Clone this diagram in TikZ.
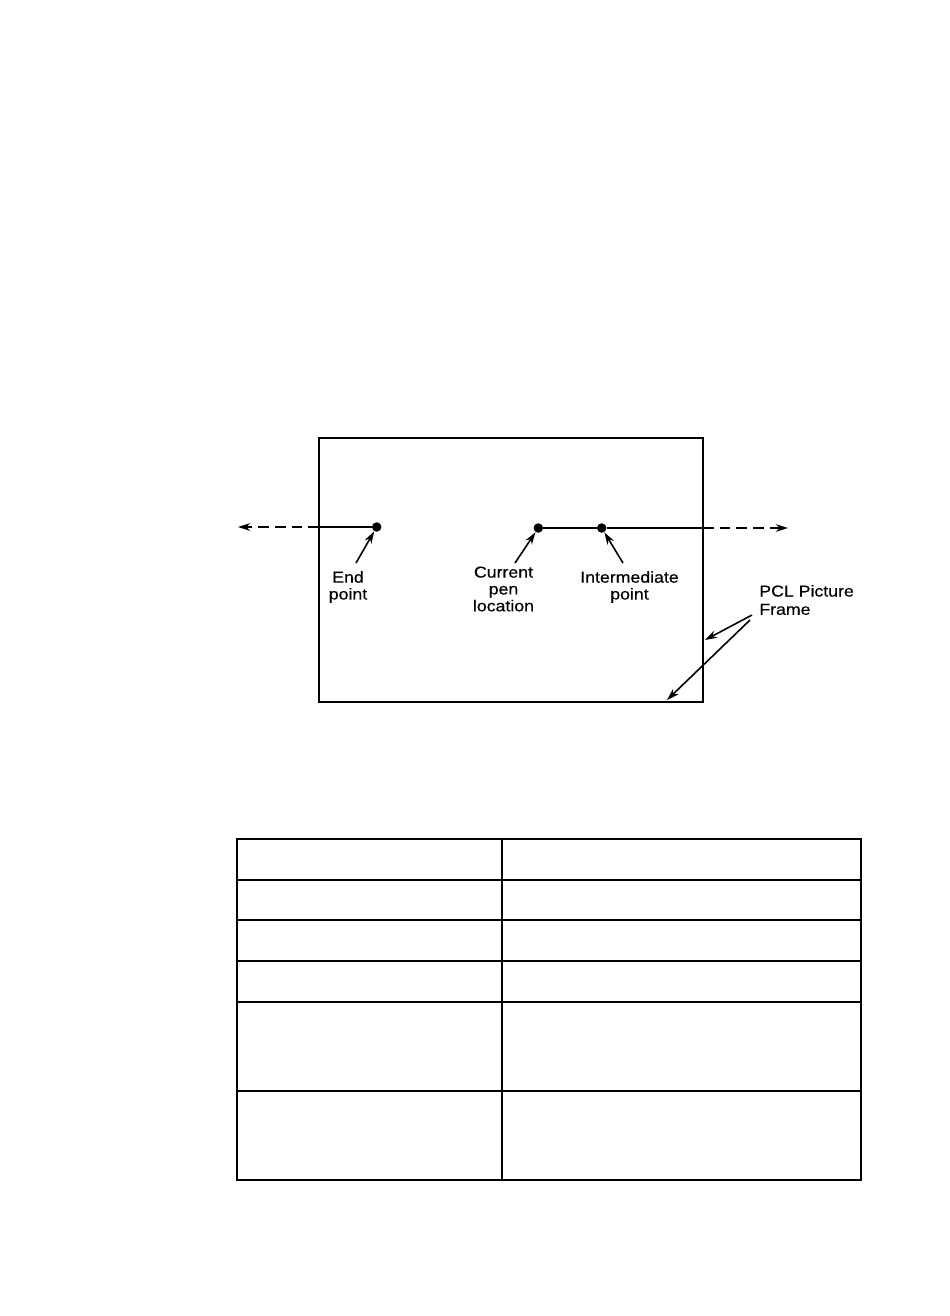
\documentclass[tikz,border=0pt]{standalone}
\usepackage{fontspec}
\setmainfont{Liberation Sans}[FakeStretch=1.12,FakeBold=0.4]
\usetikzlibrary{arrows.meta}
\tikzset{
  cuadro/.style={draw=black,line width=1pt},
  tabla/.style={draw=black,line width=1pt},
  pt/.style={circle,fill=black,inner sep=0pt,minimum size=5.4pt},
  linea/.style={line width=0.9pt},
  flecha/.style={-{Stealth[length=7pt,width=4.4pt]},line width=0.9pt},
  trazos/.style={flecha,dash pattern=on 6pt off 3.5pt},
  rotulo/.style={font=\fontsize{9}{9.6}\selectfont,align=center,inner sep=0pt}
}
\begin{document}
\begin{tikzpicture}[x=0.02cm,y=-0.02cm]
\useasboundingbox (0,0) rectangle (950,1316);
% marco
\draw[cuadro] (319,438) rectangle (703,702);
\node[pt] (fin) at (376.7,527) {};
\node[pt] (pluma) at (538.3,528) {};
\node[pt] (inter) at (601.7,528) {};
\coordinate (bizq) at (319,527);
\coordinate (bder) at (703,528);
\coordinate (izq) at (238,527);
\coordinate (der) at (788,528);
\draw[linea] (fin) -- (bizq);
\draw[trazos] (bizq) -- (izq);
\draw[linea] (pluma) -- (inter) -- (bder);
\draw[trazos] (bder) -- (der);
% rotulos
\node[rotulo] (tfin) at (348,587) {End\\point};
\node[rotulo] (tpluma) at (503.5,589) {Current\\pen\\location};
\node[rotulo] (tinter) at (629.5,587) {Intermediate\\point};
\node[rotulo,align=left,anchor=west,font=\fontsize{9}{10.4}\selectfont] (tmarco) at (759,600) {PCL Picture\\Frame};
\coordinate (cfin) at (356,563);
\coordinate (cpluma) at (515,563);
\coordinate (cinter) at (623,563);
\draw[flecha] (cfin) -- (fin);
\draw[flecha] (cpluma) -- (pluma);
\draw[flecha] (cinter) -- (inter);
\coordinate (cm1) at (752,615); \coordinate (m1) at (705,640);
\coordinate (cm2) at (750,620); \coordinate (m2) at (667,700);
\draw[flecha] (cm1) -- (m1);
\draw[flecha] (cm2) -- (m2);
% tabla
\draw[tabla] (237,839) rectangle (861,1180);
\foreach \y in {880,920,961,1002,1091}{
  \draw[tabla] (237,\y) -- (861,\y);}
\draw[tabla] (502,839) -- (502,1180);
\end{tikzpicture}
\end{document}
